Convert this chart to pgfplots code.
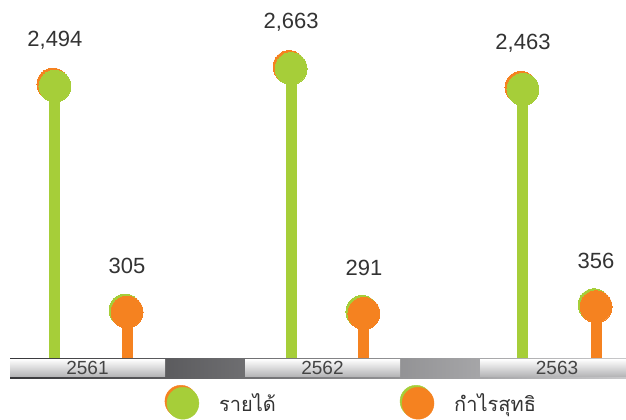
\documentclass[border=0pt]{standalone}
\usepackage{pgfplots}
\pgfplotsset{compat=1.18}
\usepackage{fontspec}
\setmainfont{Liberation Sans}
\newfontfamily\thaifont[Script=Thai]{Loma}
\definecolor{cgreen}{RGB}{166,206,57}
\definecolor{corange}{RGB}{245,130,32}
\definecolor{ctext}{RGB}{51,51,51}
\definecolor{cyear}{RGB}{68,68,68}
\definecolor{stripL}{RGB}{55,55,58}
\definecolor{stripR}{RGB}{200,200,202}
\definecolor{boxB}{RGB}{182,182,184}
\begin{document}
\begin{tikzpicture}[x=1bp,y=1bp]
\useasboundingbox (0,0) rectangle (626,419);
% base strip (py 358..378)
\shade[left color=stripL, right color=stripR] (10,41) rectangle (626,61);
\foreach \a/\b in {10/165, 245/400, 480/626}{
  \shade[top color=white, middle color=white!92!black, bottom color=boxB] (\a,43) rectangle (\b,60);
}
\node[text=cyear, font=\fontsize{19bp}{22bp}\selectfont] at (87.5,51) {2561};
\node[text=cyear, font=\fontsize{19bp}{22bp}\selectfont] at (322.5,51) {2562};
\node[text=cyear, font=\fontsize{19bp}{22bp}\selectfont] at (557,51) {2563};
\begin{axis}[
  at={(0,0)}, anchor=south west,
  scale only axis, width=626bp, height=419bp,
  xmin=-0.3885, xmax=2.2839,
  ymin=-731.6, ymax=3328.5,
  y coord trafo/.code={\pgfmathparse{#1+140}},
  y coord inv trafo/.code={\pgfmathparse{#1-140}},
  hide axis, clip=false,
  /pgf/number format/.cd, 1000 sep={,}, assume math mode=true,
  /pgfplots/.cd,
  legend columns=2,
  legend style={draw=none, fill=none, inner sep=0pt, anchor=west,
    at={(axis description cs:0.2628,0.040)},
    font=\thaifont\fontsize{20bp}{24bp}\selectfont, text=ctext,
    /tikz/every even column/.append style={column sep=122bp},
    /tikz/every odd column/.append style={column sep=18bp}},
]
% stems
\addplot[ycomb, cgreen, line width=11bp, forget plot] coordinates {(-0.154,2494) (0.854,2663) (1.844,2463)};
\addplot[ycomb, corange, line width=11bp, forget plot] coordinates {(0.154,305) (1.165,291) (2.156,356)};
% balls: revenue
\addplot[only marks, corange, mark=*, mark size=16bp, mark options={xshift=-2bp, yshift=2bp, fill=corange, draw=corange, line width=0pt}, forget plot]
  coordinates {(-0.154,2494) (0.854,2663) (1.844,2463)};
\addplot[only marks, cgreen, mark=*, mark size=16bp, mark options={fill=cgreen, draw=cgreen, line width=0pt}, forget plot,
  point meta=rawy, nodes near coords,
  every node near coord/.append style={anchor=center, yshift=46bp, text=ctext, font=\fontsize{22bp}{26bp}\selectfont}]
  coordinates {(-0.154,2494) (0.854,2663) (1.844,2463)};
% balls: profit
\addplot[only marks, cgreen, mark=*, mark size=16bp, mark options={xshift=-2bp, yshift=2bp, fill=cgreen, draw=cgreen, line width=0pt}, forget plot]
  coordinates {(0.154,305) (1.165,291) (2.156,356)};
\addplot[only marks, corange, mark=*, mark size=16bp, mark options={fill=corange, draw=corange, line width=0pt}, forget plot,
  point meta=rawy, nodes near coords,
  every node near coord/.append style={anchor=center, yshift=46bp, text=ctext, font=\fontsize{22bp}{26bp}\selectfont}]
  coordinates {(0.154,305) (1.165,291) (2.156,356)};
% legend
\addlegendimage{legend image code/.code={\fill[corange] (16bp,2bp) circle (16bp); \fill[cgreen] (18bp,0bp) circle (16bp);}}
\addlegendentry{รายได้}
\addlegendimage{legend image code/.code={\fill[cgreen] (16bp,2bp) circle (16bp); \fill[corange] (18bp,0bp) circle (16bp);}}
\addlegendentry{กำไรสุทธิ}
\end{axis}
\end{tikzpicture}
\end{document}
